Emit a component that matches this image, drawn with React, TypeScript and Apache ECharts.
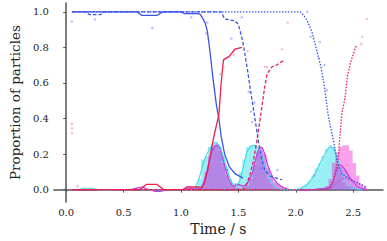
import React, { useEffect, useRef } from "react";
import * as echarts from "echarts";

// ---- data (time in s, proportion) ----
const yTicks = [0, 0.2, 0.4, 0.6, 0.8, 1.0];
const xTicks = [0, 0.5, 1.0, 1.5, 2.0, 2.5];

const blueSolid = [[0.05,1],[0.62,1],[0.66,0.98],[0.79,0.98],[0.84,1],[1.0,1],[1.03,0.99],[1.15,0.99],[1.17,0.985],[1.21,0.94],[1.23,0.89],[1.25,0.79],[1.28,0.62],[1.31,0.47],[1.33,0.4],[1.35,0.3],[1.38,0.2],[1.42,0.13],[1.47,0.09],[1.54,0.065]];
const redSolid = [[0.05,0],[0.64,0],[0.7,0.03],[0.79,0.03],[0.85,0],[1.02,0],[1.05,0.015],[1.15,0.015],[1.18,0.01],[1.2,0.03],[1.23,0.1],[1.26,0.21],[1.29,0.31],[1.33,0.42],[1.35,0.6],[1.37,0.73],[1.42,0.75],[1.47,0.79],[1.53,0.8]];
const blueDashed = [[0.05,1],[0.17,1],[0.2,0.985],[0.3,0.985],[0.33,1],[1.35,1],[1.38,0.96],[1.47,0.95],[1.5,0.93],[1.54,0.83],[1.58,0.67],[1.61,0.54],[1.64,0.42],[1.675,0.27],[1.7,0.18],[1.73,0.11],[1.78,0.075],[1.88,0.055]];
const redDashed = [[0.05,0],[1.53,0],[1.56,0.01],[1.6,0.08],[1.63,0.16],[1.66,0.27],[1.69,0.4],[1.71,0.49],[1.73,0.58],[1.75,0.65],[1.79,0.69],[1.83,0.7],[1.89,0.725]];
const blueDotted = [[0.05,1],[2.04,1],[2.07,0.98],[2.1,0.95],[2.14,0.89],[2.18,0.79],[2.22,0.69],[2.25,0.58],[2.28,0.43],[2.3,0.36],[2.33,0.27],[2.36,0.16],[2.4,0.09],[2.48,0.055],[2.57,0.03],[2.62,0.01]];
const redDotted = [[0.05,0],[2.27,0],[2.3,0.01],[2.33,0.055],[2.37,0.18],[2.4,0.42],[2.43,0.52],[2.45,0.64],[2.48,0.72],[2.52,0.8],[2.53,0.81]];
const midDotted = [[2.28,0],[2.33,0.02],[2.38,0.05],[2.43,0.065],[2.5,0.05],[2.58,0.02],[2.62,0.01]];

// histogram bins: [bin centre, height], bin width 0.03 s
const BIN = 0.03;
const cyanHist = [[1.13,0.01],[1.16,0.06],[1.19,0.17],[1.22,0.19],[1.25,0.24],[1.28,0.26],[1.31,0.27],[1.34,0.24],[1.37,0.19],[1.4,0.12],[1.43,0.06],[1.46,0.03],[1.49,0.03],[1.52,0.1],[1.55,0.17],[1.58,0.24],[1.61,0.25],[1.64,0.25],[1.67,0.24],[1.7,0.2],[1.73,0.12],[1.76,0.06],[1.79,0.03],[1.82,0.01],[2.03,0.01],[2.06,0.02],[2.09,0.03],[2.12,0.05],[2.15,0.08],[2.18,0.12],[2.21,0.15],[2.24,0.19],[2.27,0.23],[2.3,0.25],[2.33,0.24],[2.36,0.18],[2.39,0.1],[2.42,0.04],[2.45,0.02],[2.48,0.02],[2.51,0.01]];
const pinkHist = [[1.19,0.02],[1.22,0.1],[1.25,0.19],[1.28,0.24],[1.31,0.25],[1.34,0.22],[1.37,0.15],[1.4,0.08],[1.43,0.04],[1.46,0.02],[1.49,0.01],[1.58,0.02],[1.61,0.06],[1.64,0.14],[1.67,0.21],[1.7,0.24],[1.73,0.2],[1.76,0.12],[1.79,0.07],[1.82,0.04],[1.85,0.03],[1.88,0.02],[2.27,0.02],[2.3,0.06],[2.33,0.15],[2.36,0.21],[2.39,0.24],[2.42,0.25],[2.45,0.25],[2.48,0.22],[2.51,0.15],[2.54,0.08],[2.57,0.03],[2.6,0.01]];
const purpleKde = [[0.05,0],[0.55,0],[0.62,0.01],[0.66,0.015],[0.7,0.005],[0.75,-0.005],[0.8,-0.01],[0.86,-0.004],[0.92,0],[1.0,0],[1.05,0.008],[1.12,0.006],[1.16,0.005],[1.19,0.03],[1.22,0.09],[1.25,0.17],[1.28,0.23],[1.31,0.25],[1.34,0.23],[1.37,0.16],[1.4,0.09],[1.43,0.04],[1.46,0.02],[1.5,0.03],[1.54,0.02],[1.58,0.04],[1.62,0.09],[1.65,0.17],[1.68,0.23],[1.7,0.24],[1.73,0.2],[1.76,0.13],[1.8,0.07],[1.85,0.03],[1.9,0.01],[1.95,0],[2.05,0],[2.1,-0.005],[2.2,0.005],[2.28,0.01],[2.32,0.04],[2.35,0.1],[2.38,0.14],[2.41,0.13],[2.44,0.1],[2.48,0.06],[2.52,0.03],[2.56,0.01],[2.62,0]];
const cyanKde = [[0.05,0],[0.1,0],[0.15,0.008],[0.22,0.008],[0.27,0],[0.3,-0.005],[0.37,-0.005],[0.42,0],[1.1,0],[1.15,0.05],[1.2,0.16],[1.25,0.23],[1.3,0.265],[1.34,0.24],[1.38,0.16],[1.42,0.08],[1.46,0.03],[1.5,0.035],[1.54,0.12],[1.58,0.22],[1.63,0.25],[1.68,0.23],[1.72,0.15],[1.77,0.06],[1.83,0.01],[1.9,0],[2.0,0],[2.08,0.02],[2.15,0.07],[2.22,0.16],[2.28,0.23],[2.31,0.24],[2.35,0.2],[2.39,0.11],[2.44,0.04],[2.5,0.01],[2.58,0]];

const blueDots = [[0.05,0.946],[0.25,0.957],[0.75,0.91],[1.09,0.97],[1.23,0.94],[1.22,0.88],[1.44,0.85],[1.53,0.97],[1.59,0.55],[1.61,0.44],[1.64,0.49],[1.84,0.11],[2.1,1.0],[2.21,0.83],[2.25,0.7],[2.27,0.56],[2.13,0.86],[2.2,0.74],[1.36,0.17],[1.4,0.11],[1.62,0.38],[2.16,0.08],[1.7,0.12],[2.38,0.12]];
const pinkDots = [[0.05,0.32],[0.05,0.345],[0.05,0.37],[0.1,0.02],[1.58,0.78],[1.34,0.65],[1.37,0.69],[1.93,0.94],[1.88,0.79],[1.73,0.69],[1.75,0.69],[2.62,0.96],[2.58,0.86],[2.57,0.82],[1.46,0.76],[2.45,0.14],[1.65,0.06]];

const FONT = "DejaVu Serif";
const BLUE = "#3a55e6";
const RED = "#e8204f";

// turn bins into a closed step outline (null breaks between separate groups)
function stepOutline(bins: number[][]) {
  const out: (number[] | null)[] = [];
  let prevRight: number | null = null;
  for (const [c, h] of bins) {
    const l = c - BIN / 2, r = c + BIN / 2;
    if (prevRight === null || Math.abs(l - prevRight) > 1e-6) {
      if (prevRight !== null) out.push([prevRight, 0]);
      out.push([l, 0]);
    }
    out.push([l, h], [r, h]);
    prevRight = r;
  }
  if (prevRight !== null) out.push([prevRight, 0]);
  return out;
}

export default function App() {
  const ref = useRef<HTMLDivElement>(null);
  useEffect(() => {
    const chart = echarts.init(ref.current!, null, { renderer: "svg" });
    const line = (data: number[][], color: string, type: any, z: number, width = 1.3) => ({
      type: "line", data, showSymbol: false, smooth: false, z,
      lineStyle: { color, width, type }, silent: true,
    });
    const hist = (bins: number[][], color: string) => ({
      type: "line", data: stepOutline(bins), showSymbol: false, z: 1, silent: true,
      lineStyle: { width: 0, opacity: 0 }, areaStyle: { color, origin: 0, opacity: 1 },
    });
    chart.setOption({
      animation: false,
      grid: { left: 39, right: 4, top: 3, bottom: 31 },
      xAxis: {
        type: "value", min: -0.108, max: 2.76,
        axisLine: { show: true, lineStyle: { color: "#555", width: 1.5 } },
        axisTick: { show: true, length: 3, customValues: xTicks, lineStyle: { color: "#555" } },
        splitLine: { show: false },
        axisLabel: {
          fontFamily: FONT, fontSize: 10, color: "#222", margin: 5,
          customValues: xTicks,
          formatter: (v: number) => v.toFixed(1),
        },
        name: "Time / s", nameLocation: "middle", nameGap: 17,
        nameTextStyle: { fontFamily: FONT, fontSize: 14, color: "#222" },
      },
      yAxis: {
        type: "value", min: -0.07, max: 1.05,
        axisLine: { show: true, lineStyle: { color: "#555", width: 1.5 } },
        axisTick: { show: true, length: 3, customValues: yTicks, lineStyle: { color: "#555" } },
        splitLine: { show: false },
        axisLabel: {
          fontFamily: FONT, fontSize: 10, color: "#222", margin: 5,
          customValues: yTicks,
          formatter: (v: number) => v.toFixed(1),
        },
        name: "Proportion of particles", nameLocation: "middle", nameGap: 20,
        nameTextStyle: { fontFamily: FONT, fontSize: 13.5, color: "#222" },
      },
      series: [
        hist(cyanHist, "rgba(0,215,225,0.4)"),
        hist(pinkHist, "rgba(240,30,210,0.42)"),
        { type: "line", data: purpleKde, smooth: 0.3, showSymbol: false, z: 2, silent: true, lineStyle: { width: 1.2, color: "#c03ee0" }, areaStyle: { color: "rgba(150,80,230,0.35)", origin: 0 } },
        { ...line(cyanKde, "#45d8e0", "solid", 2, 1.1), smooth: 0.3 },
        { ...line(midDotted, "#b050e0", [1.5, 1.5], 3, 1.2), smooth: 0.3 },
        line(blueSolid, BLUE, "solid", 4),
        line(redSolid, RED, "solid", 4),
        line(blueDashed, BLUE, [3.5, 2], 4),
        line(redDashed, RED, [3.5, 2], 4),
        line(blueDotted, BLUE, [1.5, 1.5], 4),
        line(redDotted, RED, [1.5, 1.5], 4),
        { type: "scatter", data: blueDots, symbolSize: 2.5, z: 5, silent: true, itemStyle: { color: "rgba(90,110,240,0.55)" } },
        { type: "scatter", data: pinkDots, symbolSize: 2.5, z: 5, silent: true, itemStyle: { color: "rgba(240,100,160,0.55)" } },
      ],
    });
    return () => chart.dispose();
  }, []);
  return <div ref={ref} style={{ width: 387, height: 241, position: "absolute", left: 0, top: 0 }} />;
}
